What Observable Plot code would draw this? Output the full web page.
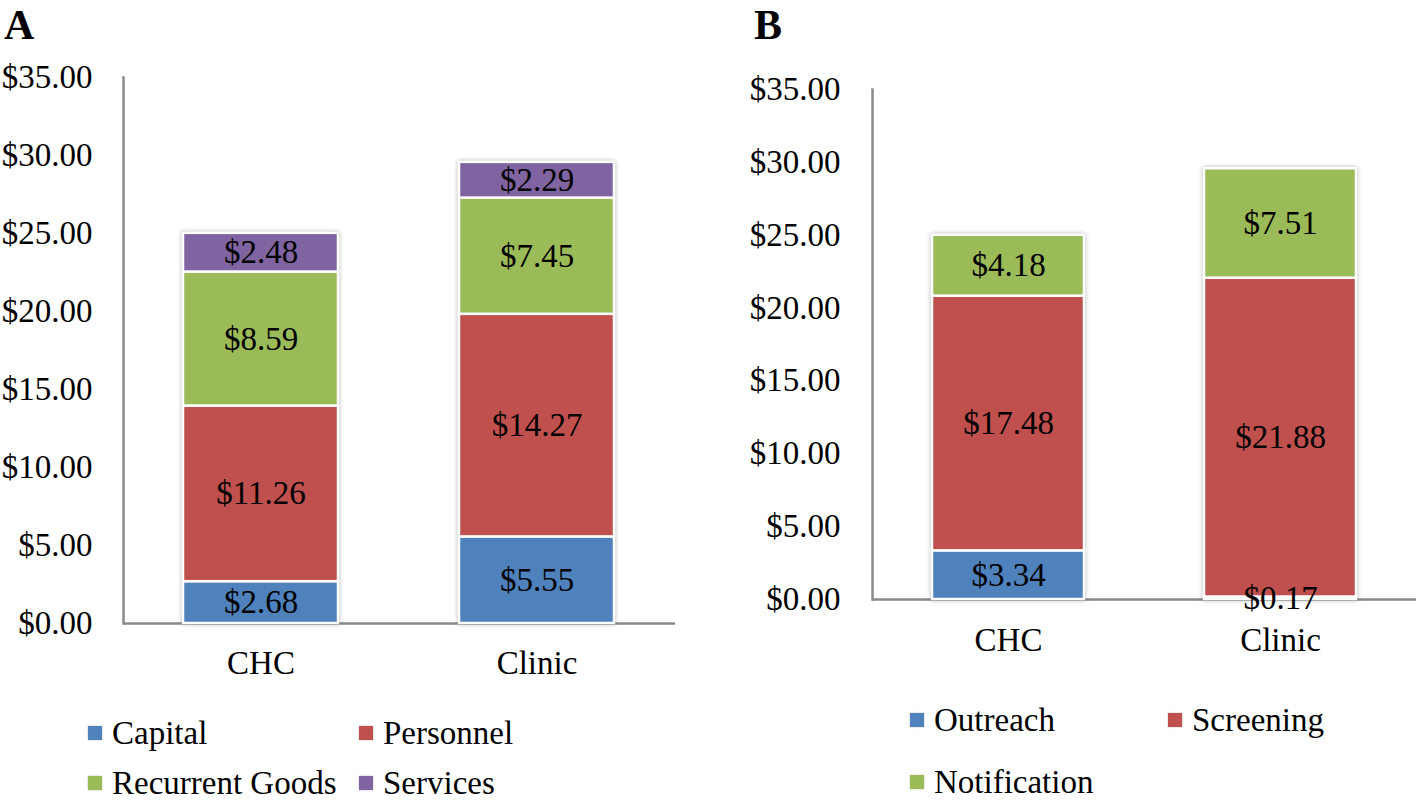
<!DOCTYPE html>
<html>
<head>
<meta charset="utf-8">
<script src="https://cdn.jsdelivr.net/npm/d3@7"></script>
<script src="https://cdn.jsdelivr.net/npm/@observablehq/plot@0.6"></script>
<style>
  html, body { margin: 0; padding: 0; background: #fff; }
  #root { position: relative; width: 1416px; height: 800px; overflow: hidden; font-family: "Liberation Serif", serif; }
  .panel { position: absolute; top: 0; }
  .letter { position: absolute; font-family: "Liberation Serif", serif; font-weight: bold; font-size: 42px; line-height: 1; }
  .leg { position: absolute; display: flex; align-items: center; font-size: 33px; color: #000; white-space: nowrap; line-height: 1; }
  .leg .sw { width: 14px; height: 14px; margin-right: 10px; box-shadow: 0 0 2px rgba(0,0,0,0.25); }
</style>
</head>
<body>
<div id="root"></div>
<script>
// ---- data ----
const facilities = ["CHC", "Clinic"];
const yTicks = [0, 5, 10, 15, 20, 25, 30, 35];

const inputCategories = ["Capital", "Personnel", "Recurrent Goods", "Services"];
const inputColors = ["#4F81BD", "#C0504D", "#9BBB59", "#8064A2"];
const inputCHC = [2.68, 11.26, 8.59, 2.48];
const inputClinic = [5.55, 14.27, 7.45, 2.29];

const activityCategories = ["Outreach", "Screening", "Notification"];
const activityColors = ["#4F81BD", "#C0504D", "#9BBB59"];
const activityCHC = [3.34, 17.48, 4.18];
const activityClinic = [0.17, 21.88, 7.51];

const fmt = v => "$" + d3.format(".2f")(v);

function rowsFrom(cats, chc, clinic) {
  const rows = [];
  cats.forEach((c, i) => rows.push({facility: facilities[0], category: c, value: chc[i]}));
  cats.forEach((c, i) => rows.push({facility: facilities[1], category: c, value: clinic[i]}));
  return rows;
}

function panel(cfg) {
  const rows = rowsFrom(cfg.cats, cfg.chc, cfg.clinic);
  const svg = Plot.plot({
    width: cfg.width, height: cfg.height,
    marginLeft: cfg.ml, marginRight: cfg.mr, marginTop: cfg.mt, marginBottom: cfg.mb,
    style: {fontFamily: "Liberation Serif, serif", fontSize: "33px", background: "transparent", color: "#000", overflow: "visible"},
    x: {domain: facilities, paddingInner: cfg.pi, paddingOuter: cfg.po},
    y: {domain: [0, 35]},
    color: {domain: cfg.cats, range: cfg.colors},
    marks: [
      Plot.ruleY([0], {stroke: "#8a8a8a", strokeWidth: 2.5}),
      Plot.frame({anchor: "left", stroke: "#8a8a8a", strokeWidth: 2.5}),
      Plot.barY(rows, {x: "facility", y: "value", fill: "category", order: cfg.cats, stroke: "white", strokeWidth: 2.5}),
      Plot.text(rows, Plot.stackY({x: "facility", y: "value", z: "category", order: cfg.cats, text: d => fmt(d.value), fontSize: 33, fill: "black"})),
      Plot.axisY({ticks: yTicks, tickSize: 0, tickPadding: cfg.tpy, tickFormat: fmt, fontSize: 33, label: null}),
      Plot.axisX({tickSize: 0, tickPadding: cfg.tpx, fontSize: 33, label: null})
    ]
  });
  svg.querySelectorAll('g[aria-label="bar"]').forEach(g => g.style.filter = "drop-shadow(0px 0px 2px rgba(0,0,0,0.3))");
  const div = document.createElement("div");
  div.className = "panel";
  div.style.left = cfg.left + "px";
  div.appendChild(svg);
  return div;
}

const root = document.getElementById("root");

root.appendChild(panel({
  left: 0, width: 700, height: 683, ml: 123, mr: 25, mt: 77, mb: 60,
  pi: 0.438, po: 0.217, tpy: 31, tpx: 27,
  cats: inputCategories, colors: inputColors, chc: inputCHC, clinic: inputClinic
}));
root.appendChild(panel({
  left: 700, width: 716, height: 659, ml: 172, mr: 0, mt: 89, mb: 60,
  pi: 0.441, po: 0.22, tpy: 32, tpx: 28,
  cats: activityCategories, colors: activityColors, chc: activityCHC, clinic: activityClinic
}));

function letter(t, x) {
  const d = document.createElement("div");
  d.className = "letter"; d.textContent = t;
  d.style.left = x + "px"; d.style.top = "4px";
  root.appendChild(d);
}
letter("A", 4);
letter("B", 754);

function legend(cats, colors, slots) {
  cats.forEach((c, i) => {
    const d = document.createElement("div");
    d.className = "leg";
    d.style.left = slots[i][0] + "px";
    d.style.top = (slots[i][1] - 16) + "px";
    d.style.height = "32px";
    const sw = document.createElement("span");
    sw.className = "sw"; sw.style.background = colors[i];
    const tx = document.createElement("span"); tx.textContent = c;
    d.appendChild(sw); d.appendChild(tx);
    root.appendChild(d);
  });
}
legend(inputCategories, inputColors, [[88, 733], [359, 733], [88, 783], [359, 783]]);
legend(activityCategories, activityColors, [[910, 720], [1168, 720], [910, 782]]);
</script>
</body>
</html>
